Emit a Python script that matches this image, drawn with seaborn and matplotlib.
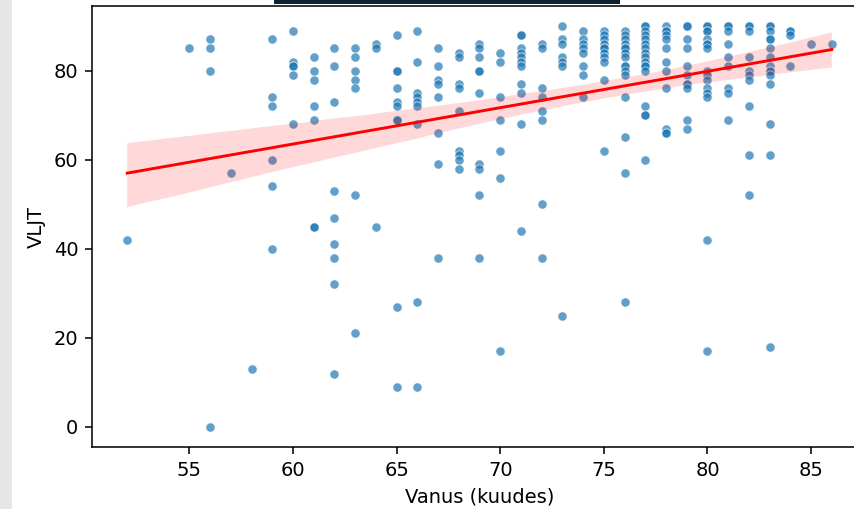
import matplotlib
matplotlib.use("Agg")
import matplotlib.pyplot as plt
import matplotlib.patches as mpatches
import pandas as pd
import seaborn as sns

# Age (in months) and the VLJT scores recorded at each age
ages = list(range(52, 87))
vljt_scores = [
    [42],                                              # 52
    [],                                                # 53
    [],                                                # 54
    [85],                                              # 55
    [87, 85, 80, 0],                                   # 56
    [57],                                              # 57
    [13],                                              # 58
    [87, 74, 72, 60, 54, 40],                          # 59
    [89, 82, 81, 81, 79, 68],                          # 60
    [83, 80, 78, 72, 69, 45, 45],                      # 61
    [85, 81, 73, 53, 47, 41, 38, 32, 12],              # 62
    [85, 83, 80, 78, 76, 52, 21],                      # 63
    [86, 85, 45],                                      # 64
    [88, 80, 80, 76, 73, 72, 69, 69, 27, 9],           # 65
    [89, 82, 75, 74, 73, 72, 68, 28, 9],               # 66
    [85, 81, 78, 77, 74, 66, 59, 38],                  # 67
    [84, 83, 77, 76, 71, 62, 61, 60, 58],              # 68
    [86, 85, 83, 80, 80, 75, 59, 58, 52, 38],          # 69
    [84, 82, 74, 69, 62, 56, 17],                      # 70
    [88, 88, 85, 84, 83, 82, 81, 77, 75, 68, 44],      # 71
    [86, 85, 76, 74, 71, 69, 50, 38],                  # 72
    [90, 87, 86, 83, 82, 81, 25],                      # 73
    [89, 87, 86, 85, 84, 81, 79, 74],                  # 74
    [89, 88, 87, 86, 85, 85, 84, 83, 82, 78, 62],      # 75
    [89, 88, 87, 86, 85, 85, 84, 83, 81, 81, 80, 79, 74, 65, 57, 28],  # 76
    [90, 90, 89, 88, 87, 86, 85, 84, 83, 82, 81, 81, 80, 72, 70, 70, 60],  # 77
    [90, 89, 89, 88, 87, 85, 82, 80, 76, 67, 66, 66],  # 78
    [90, 90, 87, 85, 81, 79, 77, 77, 76, 69, 67],      # 79
    [90, 90, 89, 89, 87, 86, 86, 85, 80, 79, 78, 76, 75, 74, 42, 17],  # 80
    [90, 90, 89, 86, 83, 81, 76, 75, 69],              # 81
    [90, 90, 89, 83, 80, 79, 78, 72, 61, 52],          # 82
    [90, 90, 89, 87, 87, 85, 83, 81, 80, 80, 79, 77, 68, 61, 18],  # 83
    [89, 89, 88, 81],                                  # 84
    [86],                                              # 85
    [86],                                              # 86
]

rows = [(a, v) for a, vals in zip(ages, vljt_scores) for v in vals]
df = pd.DataFrame(rows, columns=["Vanus (kuudes)", "VLJT"])

W, H, DPI = 854, 509, 140
fig = plt.figure(figsize=(W / DPI, H / DPI), dpi=DPI)
# light side margin and dark header strip
fig.patches.append(mpatches.Rectangle((0, 0), 12 / W, 1, transform=fig.transFigure,
                                      facecolor="#e6e6e6", edgecolor="none", zorder=0))
fig.patches.append(mpatches.Rectangle((274 / W, 1 - 4 / H), 346 / W, 4 / H,
                                      transform=fig.transFigure,
                                      facecolor="#0f2233", edgecolor="none", zorder=0))

ax = fig.add_axes([92 / W, 62 / H, 775 / W, 441 / H])

sns.scatterplot(data=df, x="Vanus (kuudes)", y="VLJT", alpha=0.7, s=22, ax=ax)
sns.regplot(data=df, x="Vanus (kuudes)", y="VLJT", scatter=False,
            color="red", line_kws={"linewidth": 1.5}, ax=ax)

ax.set_xlabel("Vanus (kuudes)")
ax.set_ylabel("VLJT")

fig.savefig("out.png", dpi=DPI)
